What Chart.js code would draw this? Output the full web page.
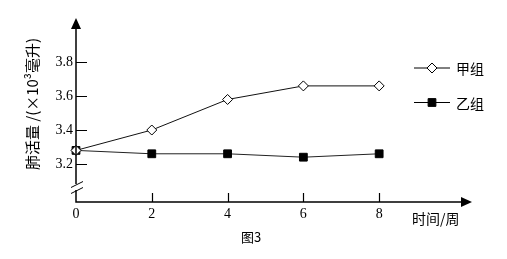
<!DOCTYPE html>
<html>
<head>
<meta charset="utf-8">
<script src="https://cdn.jsdelivr.net/npm/chart.js@4"></script>
<style>
  html, body { margin: 0; padding: 0; background: #fff; }
  canvas { display: block; }
</style>
</head>
<body>
<canvas id="grafico" width="507" height="259"></canvas>
<script>
(function() {
  // dados
  const SEMANAS = [0, 2, 4, 6, 8];
  const GRUPO_JIA = [3.28, 3.40, 3.58, 3.66, 3.66];
  const GRUPO_YI = [3.28, 3.26, 3.26, 3.24, 3.26];
  const NOMES = ["甲组", "乙组"];
  const Y_TICKS = [3.2, 3.4, 3.6, 3.8];
  const X_TICKS = [0, 2, 4, 6, 8];
  const Y_TITULO = "肺活量 /(×10³毫升)";
  const X_TITULO = "时间/周";
  const LEGENDA = "图3";

  const CJK = '"Noto Sans CJK SC", "Noto Sans", sans-serif';
  const SERIF = '"Liberation Serif", "DejaVu Serif", serif';

  function pontos(ys) {
    return SEMANAS.map(function(x, i) { return { x: x, y: ys[i] }; });
  }

  // eixos com setas, quebra, marcas e textos
  const decoracao = {
    id: "decoracao",
    afterDatasetsDraw(chart) {
      const ctx = chart.ctx;
      const xs = chart.scales.x;
      const ys = chart.scales.y;
      const x0 = xs.getPixelForValue(0);
      const yb = ys.bottom;
      ctx.save();
      ctx.strokeStyle = "#000";
      ctx.fillStyle = "#000";
      ctx.lineWidth = 1.5;

      // eixo y com quebra
      ctx.beginPath();
      ctx.moveTo(x0, ys.top + 10);
      ctx.lineTo(x0, 184);
      ctx.moveTo(x0, 190);
      ctx.lineTo(x0, yb);
      ctx.lineTo(xs.right - 10, yb);
      ctx.stroke();

      ctx.lineWidth = 1;
      ctx.beginPath();
      ctx.moveTo(x0 - 5, 187.5);
      ctx.lineTo(x0 + 7, 181.5);
      ctx.moveTo(x0 - 5, 193.5);
      ctx.lineTo(x0 + 7, 187.5);
      ctx.stroke();

      // setas
      ctx.beginPath();
      ctx.moveTo(x0, ys.top);
      ctx.lineTo(x0 - 5, ys.top + 11);
      ctx.lineTo(x0 + 5, ys.top + 11);
      ctx.closePath();
      ctx.fill();
      ctx.beginPath();
      ctx.moveTo(xs.right, yb);
      ctx.lineTo(xs.right - 11, yb - 5);
      ctx.lineTo(xs.right - 11, yb + 5);
      ctx.closePath();
      ctx.fill();

      // marcas
      ctx.lineWidth = 1.2;
      ctx.beginPath();
      Y_TICKS.forEach(function(v) {
        const p = Math.round(ys.getPixelForValue(v)) + 0.5;
        ctx.moveTo(x0, p);
        ctx.lineTo(x0 + 11, p);
      });
      X_TICKS.forEach(function(v) {
        if (v === 0) return;
        const p = Math.round(xs.getPixelForValue(v)) + 0.5;
        ctx.moveTo(p, yb);
        ctx.lineTo(p, yb - 9);
      });
      ctx.stroke();

      // textos
      ctx.font = "14px " + CJK;
      ctx.textBaseline = "middle";
      ctx.textAlign = "left";
      ctx.fillText(X_TITULO, 412, 219);
      ctx.font = "13px " + CJK;
      ctx.textAlign = "center";
      ctx.fillText(LEGENDA, 251, 237);

      ctx.save();
      ctx.translate(32, 104);
      ctx.rotate(-Math.PI / 2);
      ctx.font = "15px " + CJK;
      ctx.textAlign = "center";
      ctx.fillText(Y_TITULO, 0, 0);
      ctx.restore();

      // legenda
      const linhas = [68, 102.5];
      chart.data.datasets.forEach(function(ds, i) {
        const y = linhas[i];
        ctx.strokeStyle = "#000";
        ctx.lineWidth = 1;
        ctx.beginPath();
        ctx.moveTo(414, y);
        ctx.lineTo(450, y);
        ctx.stroke();
        ctx.fillStyle = ds.pointBackgroundColor;
        ctx.strokeStyle = ds.pointBorderColor;
        Chart.helpers.drawPoint(ctx, {
          pointStyle: ds.pointStyle,
          radius: ds.pointRadius,
          rotation: 0,
          borderWidth: 1
        }, 432, y);
        ctx.fillStyle = "#000";
        ctx.font = "14px " + CJK;
        ctx.textAlign = "left";
        ctx.textBaseline = "middle";
        ctx.fillText(ds.label, 456, y + 1);
      });
      ctx.restore();
    }
  };

  new Chart(document.getElementById("grafico"), {
    type: "line",
    data: {
      datasets: [
        {
          label: NOMES[0],
          data: pontos(GRUPO_JIA),
          borderColor: "#111",
          borderWidth: 1,
          pointStyle: "rectRot",
          pointRadius: 5,
          pointBackgroundColor: "#fff",
          pointBorderColor: "#000",
          pointBorderWidth: 1,
          clip: false
        },
        {
          label: NOMES[1],
          data: pontos(GRUPO_YI),
          borderColor: "#222",
          borderWidth: 1,
          pointStyle: "rect",
          pointRadius: 5.5,
          pointBackgroundColor: "#000",
          pointBorderColor: "#000",
          pointBorderWidth: 1,
          clip: false
        }
      ]
    },
    options: {
      responsive: false,
      animation: false,
      devicePixelRatio: 1,
      layout: { padding: { top: 18, right: 35, left: 0, bottom: 0 } },
      plugins: {
        legend: { display: false },
        tooltip: { enabled: false }
      },
      scales: {
        x: {
          type: "linear",
          min: 0,
          max: 10.45,
          grid: { display: false, drawTicks: false },
          border: { display: false },
          afterBuildTicks: function(s) { s.ticks = X_TICKS.map(function(v) { return { value: v }; }); },
          afterFit: function(s) { s.height = 57; },
          ticks: {
            color: "#000",
            padding: 4,
            maxRotation: 0,
            font: { family: SERIF, size: 14 }
          }
        },
        y: {
          min: 2.976,
          max: 4.06,
          grid: { display: false, drawTicks: false },
          border: { display: false },
          afterBuildTicks: function(s) { s.ticks = Y_TICKS.map(function(v) { return { value: v }; }); },
          afterFit: function(s) { s.width = 76; },
          ticks: {
            color: "#000",
            padding: 3,
            font: { family: SERIF, size: 14 },
            callback: function(v) { return v.toFixed(1); }
          }
        }
      }
    },
    plugins: [decoracao]
  });
})();
</script>
</body>
</html>
